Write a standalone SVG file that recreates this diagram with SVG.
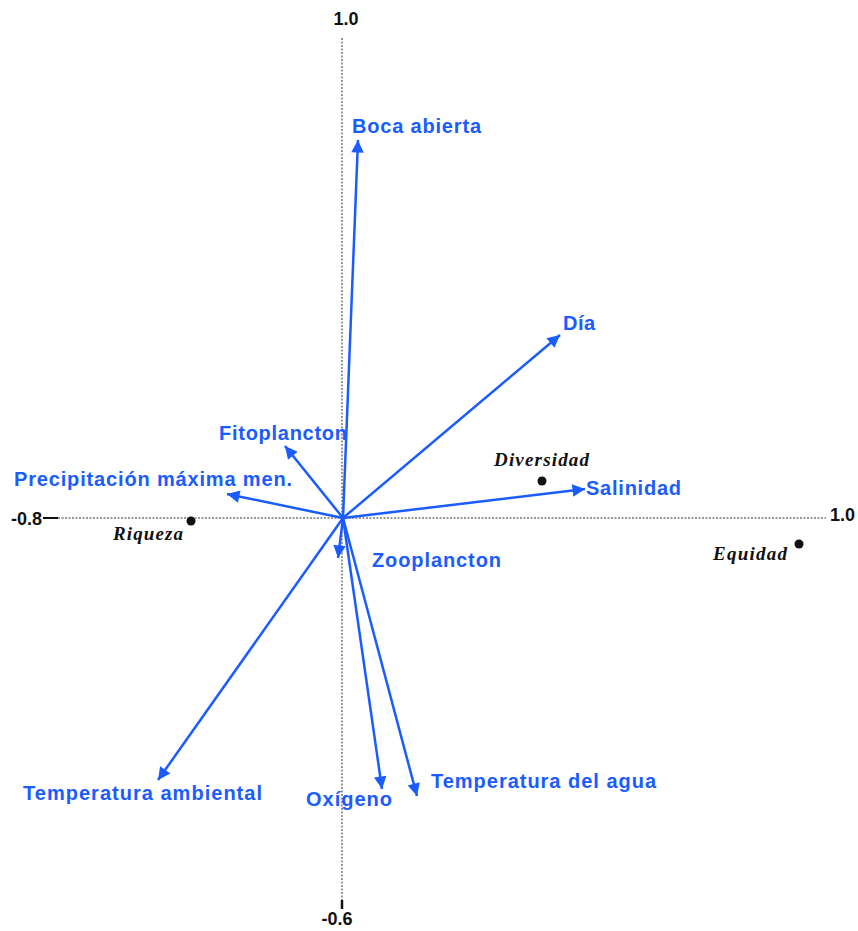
<svg xmlns="http://www.w3.org/2000/svg" width="858" height="931" viewBox="0 0 858 931">
<style>
.ax{stroke:#333;stroke-width:1;stroke-dasharray:2,1.5;fill:none}
.vec{stroke:#1a5cff;stroke-width:2.5;fill:none}
.lbl{font-family:"Liberation Sans",Arial,sans-serif;font-weight:bold;font-size:20px;fill:#1a5cff}
.axl{font-family:"Liberation Sans",Arial,sans-serif;font-weight:bold;font-size:18px;fill:#111}
.sp{font-family:"Liberation Serif","Times New Roman",serif;font-weight:bold;font-style:italic;font-size:19px;fill:#111}
</style>
<defs>
<marker id="ah" viewBox="0 0 10 10" refX="10" refY="5" markerWidth="6" markerHeight="5" orient="auto" markerUnits="strokeWidth">
<path d="M0,0 L10,5 L0,10 z" fill="#1a5cff"/>
</marker>
</defs>
<rect width="858" height="931" fill="#fff"/>
<g id="axes">
<line class="ax" x1="342" y1="38" x2="342" y2="905"/>
<line class="ax" x1="58" y1="518" x2="826" y2="518"/>
<line x1="43" y1="518" x2="58" y2="518" stroke="#111" stroke-width="2"/>
<line x1="342" y1="900" x2="342" y2="909" stroke="#111" stroke-width="2.5"/>
<text class="axl" x="346" y="25" text-anchor="middle">1.0</text>
<text class="axl" x="11" y="525">-0.8</text>
<text class="axl" x="830" y="521">1.0</text>
<text class="axl" x="337" y="925" text-anchor="middle">-0.6</text>
</g>
<g id="connectors">
<line class="vec" x1="343" y1="518" x2="358" y2="140" marker-end="url(#ah)"/>
<line class="vec" x1="343" y1="518" x2="560" y2="335" marker-end="url(#ah)"/>
<line class="vec" x1="343" y1="518" x2="285" y2="446" marker-end="url(#ah)"/>
<line class="vec" x1="343" y1="518" x2="227" y2="494" marker-end="url(#ah)"/>
<line class="vec" x1="343" y1="518" x2="585" y2="489" marker-end="url(#ah)"/>
<line class="vec" x1="343" y1="518" x2="338" y2="558" marker-end="url(#ah)"/>
<line class="vec" x1="343" y1="518" x2="158" y2="780" marker-end="url(#ah)"/>
<line class="vec" x1="343" y1="518" x2="382" y2="789" marker-end="url(#ah)"/>
<line class="vec" x1="343" y1="518" x2="417" y2="796" marker-end="url(#ah)"/>
</g>
<g id="boca"><text class="lbl" x="352" y="133" textLength="129" lengthAdjust="spacing">Boca abierta</text></g>
<g id="dia"><text class="lbl" x="563" y="330" textLength="32" lengthAdjust="spacing">Día</text></g>
<g id="fito"><text class="lbl" x="219" y="440" textLength="128" lengthAdjust="spacing">Fitoplancton</text></g>
<g id="precip"><text class="lbl" x="14" y="486" textLength="278" lengthAdjust="spacing">Precipitación máxima men.</text></g>
<g id="salinidad"><text class="lbl" x="586" y="495" textLength="95" lengthAdjust="spacing">Salinidad</text></g>
<g id="zoo"><text class="lbl" x="372" y="567" textLength="129" lengthAdjust="spacing">Zooplancton</text></g>
<g id="tamb"><text class="lbl" x="23" y="800" textLength="239" lengthAdjust="spacing">Temperatura ambiental</text></g>
<g id="oxigeno"><text class="lbl" x="306" y="806" textLength="86" lengthAdjust="spacing">Oxígeno</text></g>
<g id="tagua"><text class="lbl" x="431" y="788" textLength="225" lengthAdjust="spacing">Temperatura del agua</text></g>
<g id="diversidad"><circle cx="542" cy="481" r="4.5" fill="#111"/><text class="sp" x="494" y="466" textLength="95" lengthAdjust="spacing">Diversidad</text></g>
<g id="riqueza"><circle cx="191" cy="521" r="4.5" fill="#111"/><text class="sp" x="113" y="540" textLength="70" lengthAdjust="spacing">Riqueza</text></g>
<g id="equidad"><circle cx="799" cy="544" r="4.5" fill="#111"/><text class="sp" x="713" y="560" textLength="74" lengthAdjust="spacing">Equidad</text></g>
</svg>
